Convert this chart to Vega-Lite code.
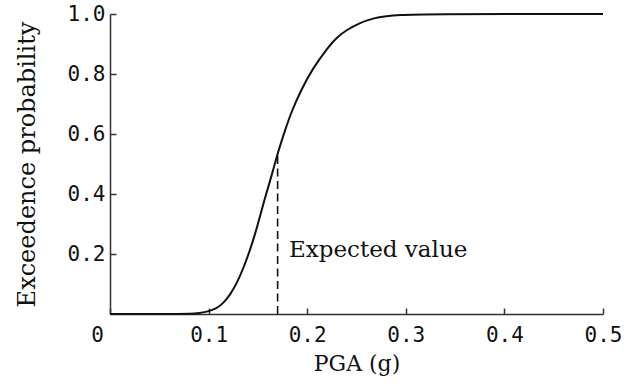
{
  "$schema": "https://vega.github.io/schema/vega-lite/v6.json",
  "autosize": "none",
  "width": 493,
  "height": 300,
  "padding": {"left": 110, "top": 14, "right": 32, "bottom": 74},
  "background": "white",
  "config": {
    "view": {"stroke": null},
    "axis": {
      "domainColor": "#333333",
      "domainWidth": 1.5,
      "tickColor": "#333333",
      "tickWidth": 1.5,
      "grid": false,
      "labelFont": "DejaVu Sans Mono",
      "labelFontSize": 21,
      "labelColor": "#111111",
      "labelFlush": false,
      "titleFont": "DejaVu Serif",
      "titleFontWeight": "normal",
      "titleColor": "#111111"
    }
  },
  "datasets": {
    "curve": [
      {"pga": 0.0, "p": 0.0},
      {"pga": 0.08, "p": 0.0},
      {"pga": 0.088, "p": 0.002},
      {"pga": 0.0997, "p": 0.008},
      {"pga": 0.108, "p": 0.018},
      {"pga": 0.115, "p": 0.036},
      {"pga": 0.122, "p": 0.065},
      {"pga": 0.1285, "p": 0.102},
      {"pga": 0.135, "p": 0.15},
      {"pga": 0.142, "p": 0.213},
      {"pga": 0.147, "p": 0.265},
      {"pga": 0.152, "p": 0.324},
      {"pga": 0.157, "p": 0.385},
      {"pga": 0.162, "p": 0.44},
      {"pga": 0.1657, "p": 0.483},
      {"pga": 0.1707, "p": 0.543},
      {"pga": 0.1775, "p": 0.612},
      {"pga": 0.1843, "p": 0.677},
      {"pga": 0.1944, "p": 0.75},
      {"pga": 0.2045, "p": 0.813},
      {"pga": 0.2214, "p": 0.891},
      {"pga": 0.23, "p": 0.922},
      {"pga": 0.24, "p": 0.947},
      {"pga": 0.253, "p": 0.97},
      {"pga": 0.267, "p": 0.986},
      {"pga": 0.28, "p": 0.993},
      {"pga": 0.294, "p": 0.997},
      {"pga": 0.314, "p": 1.0},
      {"pga": 0.5, "p": 1.0}
    ],
    "expected": [
      {"pga": 0.17, "p0": 0.0, "p1": 0.54, "label": "Expected value", "labelX": 0.1815, "labelY": 0.215}
    ]
  },
  "layer": [
    {
      "data": {"name": "curve"},
      "mark": {"type": "line", "color": "#111111", "strokeWidth": 2, "interpolate": "basis"},
      "encoding": {
        "x": {
          "field": "pga", "type": "quantitative",
          "scale": {"domain": [0, 0.5], "nice": false},
          "axis": {
            "title": "PGA (g)",
            "titleFontSize": 22,
            "values": [0, 0.1, 0.2, 0.3, 0.4, 0.5],
            "labelExpr": "datum.value == 0 ? '0' : format(datum.value, '.1f')",
            "tickSize": -6,
            "labelPadding": 16,
            "labelOffset": {"condition": {"test": "datum.value == 0", "value": -13}, "value": 0},
            "titlePadding": 8
          }
        },
        "y": {
          "field": "p", "type": "quantitative",
          "scale": {"domain": [0, 1], "nice": false},
          "axis": {
            "title": "Exceedence probability",
            "titleFontSize": 24,
            "values": [0.2, 0.4, 0.6, 0.8, 1.0],
            "format": ".1f",
            "tickSize": -6,
            "labelPadding": 11,
            "titlePadding": 28
          }
        }
      }
    },
    {
      "data": {"name": "expected"},
      "mark": {"type": "rule", "color": "#111111", "strokeWidth": 1.6, "strokeDash": [8, 4.5]},
      "encoding": {
        "x": {"field": "pga", "type": "quantitative"},
        "y": {"field": "p0", "type": "quantitative"},
        "y2": {"field": "p1"}
      }
    },
    {
      "data": {"name": "expected"},
      "mark": {"type": "text", "align": "left", "baseline": "middle", "font": "DejaVu Serif", "fontSize": 23, "color": "#111111"},
      "encoding": {
        "x": {"field": "labelX", "type": "quantitative"},
        "y": {"field": "labelY", "type": "quantitative"},
        "text": {"field": "label"}
      }
    }
  ]
}
